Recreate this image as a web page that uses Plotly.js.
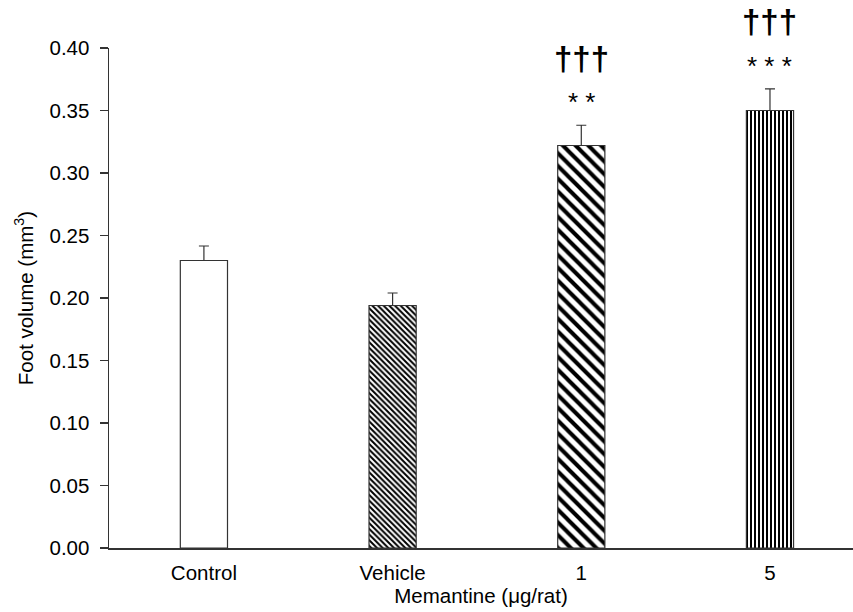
<!DOCTYPE html>
<html><head><meta charset="utf-8">
<script src="https://cdn.plot.ly/plotly-3.0.1.min.js"></script>
<style>body{margin:0;background:#fff}#c{width:853px;height:612px}</style>
</head><body><div id="c"></div>
<script>
const categories = ["Control", "Vehicle", "1", "5"];
const values = [0.230, 0.194, 0.322, 0.350];
const errors = [0.0116, 0.0100, 0.0162, 0.0173];
const stars = ["", "", "* *", "* * *"];
const daggers = ["", "", "†††", "†††"];
const yTicks = [0, 0.05, 0.10, 0.15, 0.20, 0.25, 0.30, 0.35, 0.40];

const xs = categories.map((c, i) => i);
const trace = {
  type: "bar",
  x: xs,
  y: values,
  width: 0.25,
  marker: {
    color: "#ffffff",
    line: {color: "#333333", width: 1.2},
    pattern: {
      shape: ["", "\\", "\\", "|"],
      size: [6, 4, 9, 4],
      solidity: [0.3, 0.5, 0.45, 0.5],
      fgcolor: "#000000",
      bgcolor: "#ffffff",
      fillmode: "replace"
    }
  },
  error_y: {type: "data", symmetric: false, array: errors, arrayminus: errors.map(() => 0),
            color: "#333333", thickness: 1.2, width: 5},
  hoverinfo: "none"
};

const ann = [];
xs.forEach((x, i) => {
  if (stars[i]) ann.push({x: x, y: values[i] + errors[i], xref: "x", yref: "y", text: stars[i].replace(/ /g, "&nbsp;"),
    showarrow: false, yanchor: "middle", yshift: 23, font: {family: "Liberation Sans, Arial", size: 26, color: "#000"}});
  if (daggers[i]) ann.push({x: x, y: values[i] + errors[i], xref: "x", yref: "y", text: "<b>" + daggers[i] + "</b>",
    showarrow: false, yanchor: "middle", yshift: 67, font: {family: "Liberation Sans, Arial", size: 33, color: "#000"}});
});

const layout = {
  width: 853, height: 612,
  margin: {l: 109, r: 0, t: 48, b: 64},
  paper_bgcolor: "#fff", plot_bgcolor: "#fff",
  showlegend: false,
  font: {family: "Liberation Sans, Arial, sans-serif", size: 20.5, color: "#000"},
  xaxis: {
    range: [-0.503, 3.44],
    tickvals: xs, ticktext: categories,
    showline: true, linecolor: "#333", linewidth: 1.5,
    ticks: "", showgrid: false, zeroline: false,
    tickfont: {size: 20.5}, ticklabelstandoff: 6,
    title: {text: "Memantine (μg/rat)", font: {size: 20.5}, standoff: 2}
  },
  yaxis: {
    range: [0, 0.40],
    tickvals: yTicks, ticktext: yTicks.map(v => v.toFixed(2)),
    showline: true, linecolor: "#333", linewidth: 1.5,
    ticks: "outside", ticklen: 8, tickwidth: 1.5, tickcolor: "#333",
    showgrid: false, zeroline: false,
    tickfont: {size: 20.5}, ticklabelstandoff: 6,
    title: {text: "Foot volume (mm<sup>3</sup>)", font: {size: 20.5}, standoff: 10}
  },
  annotations: ann
};
Plotly.newPlot("c", [trace], layout, {displayModeBar: false, staticPlot: true});
</script></body></html>
